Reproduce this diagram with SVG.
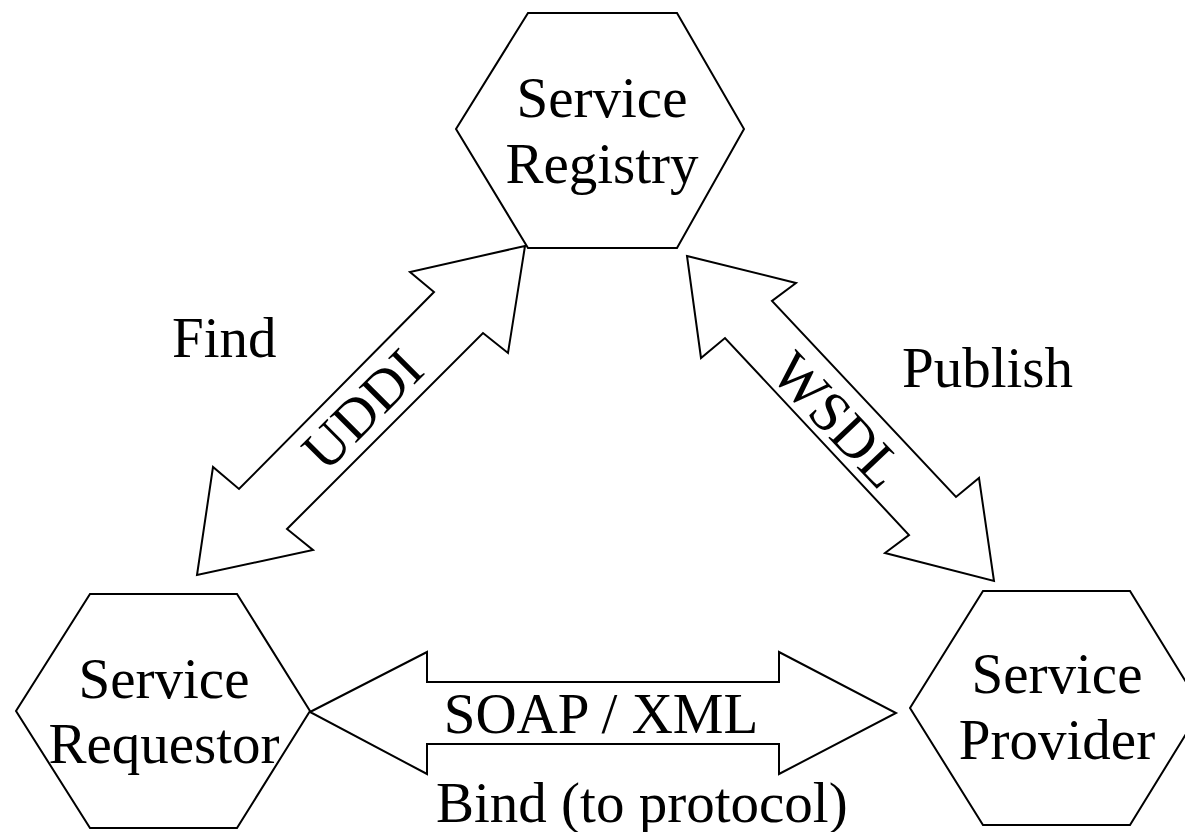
<svg xmlns="http://www.w3.org/2000/svg" width="1185" height="832" viewBox="0 0 1185 832">
<style>
.shape{fill:#fff;stroke:#000;stroke-width:2;stroke-linejoin:miter}
.t{font-family:"Liberation Serif","Times New Roman",serif;font-size:57px;fill:#000}
.m{text-anchor:middle}
</style>
<rect width="1185" height="832" fill="#fff"/>
<g id="connectors">
<g id="find-arrow">
<polygon class="shape" points="525,246 410,272 434,292 239,489 213,467 197,575 313,550 287,529 483,333 508,353"/>
<text class="t m" x="376" y="423" transform="rotate(-45 376 423)">UDDI</text>
</g>
<g id="publish-arrow">
<polygon class="shape" points="687,256 796,283 772,301 956,497 979,478 994,581 885,553 909,535 725,338 701,358"/>
<text class="t m" x="824" y="433" transform="rotate(46.5 824 433)">WSDL</text>
</g>
<g id="bind-arrow">
<polygon class="shape" points="310,712 427,652 427,682 779,682 779,652 896,713 779,774 779,744 427,744 427,774"/>
<text class="t m" x="601" y="733">SOAP / XML</text>
</g>
<text class="t" x="172" y="357">Find</text>
<text class="t" x="902" y="387">Publish</text>
<text class="t" x="436" y="822">Bind (to protocol)</text>
</g>
<g id="registry">
<polygon class="shape" points="528,13 677,13 744,129 677,248 528,248 456,129"/>
<text class="t m" x="602" y="117">Service</text>
<text class="t m" x="602" y="183">Registry</text>
</g>
<g id="requestor">
<polygon class="shape" points="90,594 237,594 310,711 237,828 90,828 16,711"/>
<text class="t m" x="164" y="698">Service</text>
<text class="t m" x="164" y="763">Requestor</text>
</g>
<g id="provider">
<polygon class="shape" points="983,591 1130,591 1202,708 1130,825 983,825 910,708"/>
<text class="t m" x="1057" y="693">Service</text>
<text class="t m" x="1057" y="759">Provider</text>
</g>
</svg>
